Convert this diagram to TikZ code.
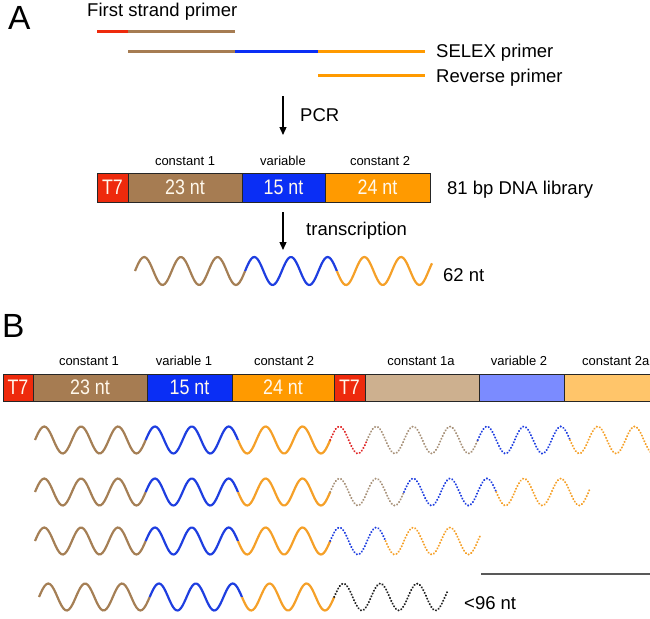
\documentclass[tikz,border=0pt]{standalone}
\usepackage{fontspec}
\setmainfont{Liberation Sans}
\usepackage{graphicx}
\usetikzlibrary{arrows.meta}
\definecolor{redbox}{HTML}{EE2A0C}
\definecolor{brownbox}{HTML}{A67C52}
\definecolor{bluebox}{HTML}{0A2EF5}
\definecolor{orangebox}{HTML}{FF9A00}
\definecolor{tanbox}{HTML}{CDB08F}
\definecolor{lbluebox}{HTML}{7B8BFF}
\definecolor{lorangebox}{HTML}{FFC56A}
\definecolor{wbrown}{HTML}{A57F55}
\definecolor{wblue}{HTML}{1E3EE0}
\definecolor{worange}{HTML}{F5A028}
\definecolor{wred}{HTML}{E02828}
\definecolor{wtan}{HTML}{A8927A}
\definecolor{wblack}{HTML}{222222}
\definecolor{boxtext}{HTML}{FFF8EC}
\newcommand{\bigtxt}{\fontsize{18.5}{20}\selectfont}
\newcommand{\smalltxt}{\fontsize{13}{14}\selectfont}
\newcommand{\boxtxt}[1]{\fontsize{21}{21}\selectfont\scalebox{0.85}[1]{#1}}
\newcommand{\wperiod}{36.9}
\newcommand{\wseg}[6]{%
  \draw[#1] plot[domain=#3:#4, samples=60, smooth, variable=\t]
    ({\t},{#5-#6*sin((\t-#2)/\wperiod*360)});}
\tikzset{
  prim/.style={line width=3pt},
  segbox/.style={draw=black!85, line width=1pt, inner sep=0pt},
  boxA/.style={segbox, minimum height=29pt},
  boxB/.style={segbox, minimum height=27pt},
  lab/.style={inner sep=0pt, anchor=base},
  big/.style={inner sep=0pt, anchor=base west, font=\bigtxt},
  arr/.style={-{Triangle[length=8pt,width=7pt]}, line width=1.3pt},
  solidw/.style={line width=2.2pt},
  dotw/.style={line width=2.2pt, line cap=round, dash pattern=on 0.1pt off 3pt}
}
\begin{document}
\begin{tikzpicture}[x=1pt,y=-1pt]
\path[use as bounding box] (0,0) rectangle (650,618);
\clip (0,0) rectangle (650,618);
% ---------- Panel A ----------
\node[inner sep=0pt, anchor=base west, font=\fontsize{33.5}{34}\selectfont] (labA) at (8,30) {A};
\node[big] (tfirst) at (87,17) {First strand primer};
\draw[prim, redbox] (97,32) -- (128,32);
\draw[prim, brownbox] (128,32) -- (235,32);
\draw[prim, brownbox] (128,52) -- (235,52);
\draw[prim, bluebox] (235,52) -- (318,52);
\draw[prim, orangebox] (318,52) -- (425,52);
\node[big] (tselex) at (436,57) {SELEX primer};
\draw[prim, orangebox] (318,75) -- (425,75);
\node[big] (trev) at (436,82) {Reverse primer};
\coordinate (pcrA) at (283,96);
\coordinate (pcrB) at (283,135);
\draw[arr] (pcrA) -- (pcrB);
\node[big] (tpcr) at (300,121.5) {PCR};
% box A
\node[lab, font=\smalltxt] (lc1) at (185,165.7) {constant 1};
\node[lab, font=\smalltxt] (lv) at (283,165.7) {variable};
\node[lab, font=\smalltxt] (lc2) at (380,165.7) {constant 2};
\node[boxA, fill=redbox, minimum width=31pt] (aT7) at (112.5,187.5) {\color{boxtext}\boxtxt{T7}};
\node[boxA, fill=brownbox, minimum width=114pt] (aC1) at (185,187.5) {\color{boxtext}\boxtxt{23 nt}};
\node[boxA, fill=bluebox, minimum width=83pt] (aV) at (283.5,187.5) {\color{boxtext}\boxtxt{15 nt}};
\node[boxA, fill=orangebox, minimum width=105pt] (aC2) at (377.5,187.5) {\color{boxtext}\boxtxt{24 nt}};
\node[big] (tlib) at (447,194.5) {81 bp DNA library};
\coordinate (trA) at (283,212);
\coordinate (trB) at (283,250);
\draw[arr] (trA) -- (trB);
\node[big] (ttr) at (306,235) {transcription};
% wave A
\renewcommand{\wperiod}{36.7}
\wseg{solidw, wbrown}{135}{135}{245.1}{271}{14}
\wseg{solidw, wblue}{135}{245.1}{336.9}{271}{14}
\wseg{solidw, worange}{135}{336.9}{432}{271}{14}
\node[big] (t62) at (443,281.5) {62 nt};
% ---------- Panel B ----------
\node[inner sep=0pt, anchor=base west, font=\fontsize{33.5}{34}\selectfont] (labB) at (2,337) {B};
\node[lab, font=\smalltxt] (b1) at (89,365.7) {constant 1};
\node[lab, font=\smalltxt] (b2) at (184,365.7) {variable 1};
\node[lab, font=\smalltxt] (b3) at (284,365.7) {constant 2};
\node[lab, font=\smalltxt] (b4) at (421,365.7) {constant 1a};
\node[lab, font=\smalltxt] (b5) at (519,365.7) {variable 2};
\node[inner sep=0pt, anchor=base west, font=\smalltxt] (b6) at (582,365.7) {constant 2a};
\node[boxB, fill=redbox, minimum width=30pt] (bT7) at (18,387.5) {\color{boxtext}\boxtxt{T7}};
\node[boxB, fill=brownbox, minimum width=114pt] (bC1) at (90,387.5) {\color{boxtext}\boxtxt{23 nt}};
\node[boxB, fill=bluebox, minimum width=85pt] (bV1) at (189.5,387.5) {\color{boxtext}\boxtxt{15 nt}};
\node[boxB, fill=orangebox, minimum width=102pt] (bC2) at (283,387.5) {\color{boxtext}\boxtxt{24 nt}};
\node[boxB, fill=redbox, minimum width=31pt] (bT7b) at (349.5,387.5) {\color{boxtext}\boxtxt{T7}};
\node[boxB, fill=tanbox, minimum width=114pt] (bC1a) at (422,387.5) {};
\node[boxB, fill=lbluebox, minimum width=85pt] (bV2) at (521.5,387.5) {};
\node[boxB, fill=lorangebox, minimum width=116pt] (bC2a) at (622,387.5) {};
% waves B
\renewcommand{\wperiod}{36.9}
% row 1
\wseg{solidw, wbrown}{35}{35}{145.7}{440}{13.5}
\wseg{solidw, wblue}{35}{145.7}{238}{440}{13.5}
\wseg{solidw, worange}{35}{238}{330.2}{440}{13.5}
\wseg{dotw, wred}{35}{330.2}{367.1}{440}{13.5}
\wseg{dotw, wtan}{35}{367.1}{477.8}{440}{13.5}
\wseg{dotw, wblue}{35}{477.8}{570.1}{440}{13.5}
\wseg{dotw, worange}{35}{570.1}{652}{440}{13.5}
% row 2
\wseg{solidw, wbrown}{35}{35}{145.7}{492}{13.5}
\wseg{solidw, wblue}{35}{145.7}{238}{492}{13.5}
\wseg{solidw, worange}{35}{238}{330.2}{492}{13.5}
\wseg{dotw, wtan}{35}{330.2}{404}{492}{13.5}
\wseg{dotw, wblue}{35}{404}{496.3}{492}{13.5}
\wseg{dotw, worange}{35}{496.3}{590}{492}{13.5}
% row 3
\wseg{solidw, wbrown}{35}{35}{145.7}{541}{13.5}
\wseg{solidw, wblue}{35}{145.7}{238}{541}{13.5}
\wseg{solidw, worange}{35}{238}{330.2}{541}{13.5}
\wseg{dotw, wblue}{35}{330.2}{385.6}{541}{13.5}
\wseg{dotw, worange}{35}{385.6}{480}{541}{13.5}
% row 4
\wseg{solidw, wbrown}{39}{39}{149.7}{597}{13.5}
\wseg{solidw, wblue}{39}{149.7}{242}{597}{13.5}
\wseg{solidw, worange}{39}{242}{334.2}{597}{13.5}
\wseg{dotw, wblack}{39}{334.2}{447}{597}{13.5}
\node[big] (t96) at (464,609.5) {<96 nt};
\coordinate (gl1) at (481,574);
\coordinate (gl2) at (652,574);
\draw[line width=2.5pt, black!65] (gl1) -- (gl2);
\end{tikzpicture}
\end{document}
